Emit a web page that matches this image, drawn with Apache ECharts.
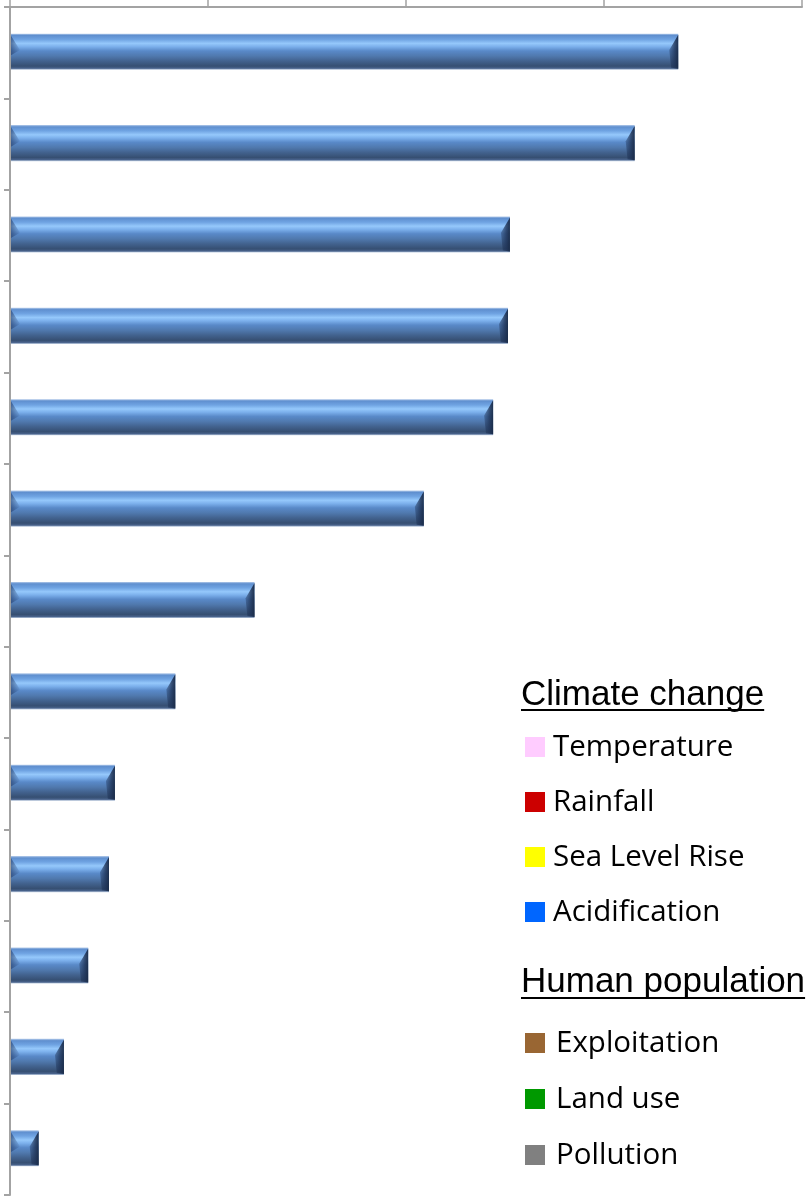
<!DOCTYPE html>
<html>
<head>
<meta charset="utf-8">
<title>Bar chart</title>
<script src="https://cdn.jsdelivr.net/npm/echarts@6/dist/echarts.min.js"></script>
<style>
  html, body { margin: 0; padding: 0; background: #ffffff; }
  #chart { width: 807px; height: 1196px; }
</style>
</head>
<body>
<div id="chart"></div>
<script>
// Bar categories (top to bottom) and their lengths
const categories = ['1', '2', '3', '4', '5', '6', '7', '8', '9', '10', '11', '12', '13'];
const barValues = [67.5, 63.1, 50.5, 50.3, 48.8, 41.8, 24.7, 16.7, 10.6, 10.0, 7.9, 5.45, 2.9];

// Value axis range
const axisMin = 0;
const axisMax = 80;
const axisInterval = 20;

// Key entries
const climateTitle = 'Climate change';
const climateLabels = ['Temperature', 'Rainfall', 'Sea Level Rise', 'Acidification'];
const climateColors = ['#ffccff', '#cc0000', '#ffff00', '#0066ff'];
const humanTitle = 'Human population';
const humanLabels = ['Exploitation', 'Land use', 'Pollution'];
const humanColors = ['#996633', '#009900', '#808080'];

const AXIS_COLOR = '#a3a3a3';
const ITEM_FONT = '29.5px "Open Sans"';
const TITLE_FONT = '35px "Liberation Sans", Arial, sans-serif';

const chart = echarts.init(document.getElementById('chart'), null, { renderer: 'canvas' });

// Bevelled bar shape: body with vertical shading plus darker end wedges
function renderBar(params, api) {
  const cat = api.value(0);
  const val = api.value(1);
  const p0 = api.coord([axisMin, cat]);
  const p1 = api.coord([val, cat]);
  const band = api.size([0, 1])[1];
  const h = band * 0.395;
  const x0 = p0[0] + 1;
  const x1 = p1[0];
  const y0 = p0[1] - h / 2 - 1;
  const y1 = y0 + h;
  const w = x1 - x0;
  const b = Math.min(9, w / 2.5);

  const body = new echarts.graphic.LinearGradient(0, 0, 0, 1, [
    { offset: 0.00, color: '#b4cbea' },
    { offset: 0.05, color: '#5f8fcf' },
    { offset: 0.16, color: '#6fa3e2' },
    { offset: 0.27, color: '#95c8fb' },
    { offset: 0.36, color: '#7cb0ec' },
    { offset: 0.48, color: '#5989c8' },
    { offset: 0.62, color: '#5079ae' },
    { offset: 0.76, color: '#42628e' },
    { offset: 0.90, color: '#364f72' },
    { offset: 0.96, color: '#48628b' },
    { offset: 1.00, color: '#c0cfe3' }
  ]);

  const children = [
    {
      type: 'rect',
      shape: { x: x0, y: y0, width: w, height: h },
      style: { fill: body }
    },
    {
      // left end: shaded upper wedge
      type: 'polygon',
      shape: { points: [[x0, y0 + 2], [x0 + b, y0 + h * 0.45], [x0, y0 + h * 0.6]] },
      style: {
        fill: new echarts.graphic.LinearGradient(0, 0, 1, 0, [
          { offset: 0, color: 'rgba(35,60,105,0.6)' },
          { offset: 1, color: 'rgba(35,60,105,0.05)' }
        ])
      }
    },
    {
      // right end: dark bevel
      type: 'polygon',
      shape: { points: [[x1, y0 + 1], [x1, y1 - 1], [x1 - b * 0.8, y1 - 2], [x1 - b, y0 + h * 0.45]] },
      style: {
        fill: new echarts.graphic.LinearGradient(0, 0, 1, 0, [
          { offset: 0, color: 'rgba(30,50,85,0.35)' },
          { offset: 0.6, color: 'rgba(30,50,85,0.8)' },
          { offset: 1, color: 'rgba(25,42,70,0.95)' }
        ])
      }
    }
  ];
  return { type: 'group', children: children };
}

// Key drawn as graphic elements
const measureCtx = document.createElement('canvas').getContext('2d');
function textWidth(text, font) {
  measureCtx.font = font;
  return measureCtx.measureText(text).width;
}

const keyGraphics = [];
function addTitle(text, x, yMid, underlineY, maxRight) {
  keyGraphics.push({
    type: 'text', x: x, y: yMid,
    style: { text: text, font: TITLE_FONT, fill: '#000000', verticalAlign: 'middle', align: 'left' }
  });
  const wTxt = Math.min(textWidth(text, TITLE_FONT), maxRight - x);
  keyGraphics.push({
    type: 'line',
    shape: { x1: x, y1: underlineY, x2: x + wTxt, y2: underlineY },
    style: { stroke: '#000000', lineWidth: 2.2 }
  });
}
function addItems(labels, colors, swatchX, textX, yStart, step) {
  labels.forEach(function (label, i) {
    const yc = yStart + i * step;
    keyGraphics.push({
      type: 'rect',
      shape: { x: swatchX, y: yc - 10, width: 20, height: 20 },
      style: { fill: colors[i] }
    });
    keyGraphics.push({
      type: 'text', x: textX, y: yc + 1,
      style: { text: label, font: ITEM_FONT, fill: '#000000', verticalAlign: 'middle', align: 'left' }
    });
  });
}
addTitle(climateTitle, 521, 695, 710, 807);
addItems(climateLabels, climateColors, 525, 553, 747, 55);
addTitle(humanTitle, 521, 982, 998, 807);
addItems(humanLabels, humanColors, 525, 556, 1043, 56);

const option = {
  backgroundColor: '#ffffff',
  animation: false,
  grid: { left: 10, right: 5, top: 7, bottom: 1, containLabel: false },
  xAxis: {
    type: 'value',
    position: 'top',
    min: axisMin,
    max: axisMax,
    interval: axisInterval,
    axisLine: { show: true, lineStyle: { color: AXIS_COLOR, width: 2 } },
    axisTick: { show: true, inside: false, length: 7, lineStyle: { color: AXIS_COLOR, width: 1.5 } },
    axisLabel: { show: false },
    splitLine: { show: false }
  },
  yAxis: {
    type: 'category',
    inverse: true,
    data: categories,
    axisLine: { show: true, lineStyle: { color: AXIS_COLOR, width: 2 } },
    axisTick: { show: true, inside: false, length: 6, lineStyle: { color: AXIS_COLOR, width: 2 } },
    axisLabel: { show: false },
    splitLine: { show: false }
  },
  series: [{
    type: 'custom',
    renderItem: renderBar,
    encode: { x: 1, y: 0 },
    data: barValues.map(function (v, i) { return [i, v]; }),
    z: 1
  }],
  graphic: keyGraphics
};

chart.setOption(option);
</script>
</body>
</html>
